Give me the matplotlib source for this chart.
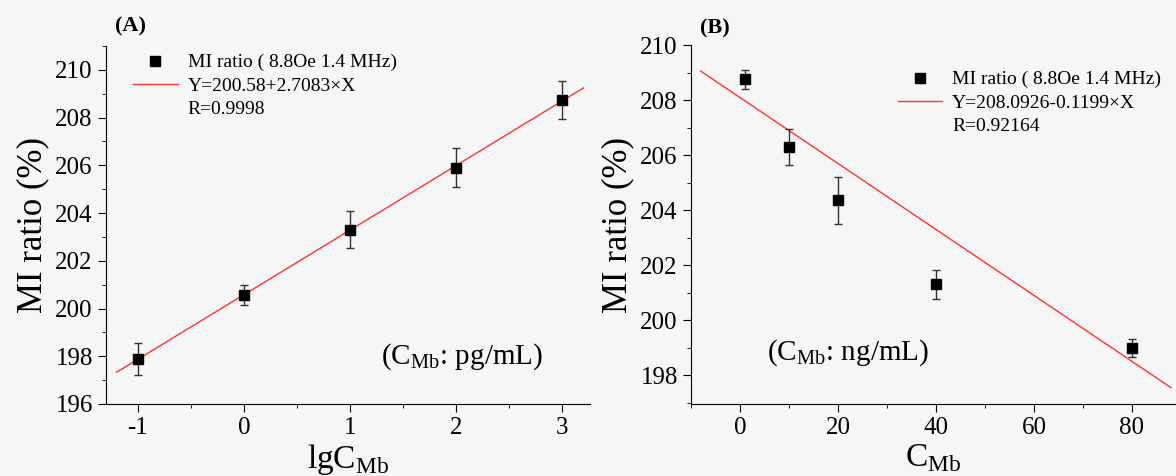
import matplotlib.pyplot as plt
from matplotlib.ticker import MultipleLocator
from matplotlib.lines import Line2D

plt.rcParams['font.family'] = ['Liberation Serif', 'DejaVu Serif']
plt.rcParams['mathtext.fontset'] = 'custom'
plt.rcParams['mathtext.rm'] = 'Liberation Serif'
plt.rcParams['axes.unicode_minus'] = False

# panel A data
xa = [-1, 0, 1, 2, 3]
ya = [197.9, 200.57, 203.3, 205.9, 208.75]
ea = [0.67, 0.42, 0.77, 0.82, 0.8]
fit_a = (200.58, 2.7083)
fit_a_x = [-1.2, 3.2]

# panel B data
xb = [1, 10, 20, 40, 80]
yb = [208.75, 206.3, 204.35, 201.3, 199.0]
eb = [0.35, 0.65, 0.85, 0.52, 0.33]
fit_b = (208.0926, -0.1199)
fit_b_x = [-8, 88]

bg = '#f6f6f6'
fig = plt.figure(figsize=(11.76, 4.76), dpi=100, facecolor=bg)
axA = fig.add_axes([0.0901, 0.1513, 0.4116, 0.752])
axB = fig.add_axes([0.5876, 0.1513, 0.4124, 0.754])


def panel(ax, x, y, e, fit, fx, eqn, r, anchor):
    ax.set_facecolor(bg)
    ax.errorbar(x, y, yerr=e, fmt='none', ecolor='#333333',
                elinewidth=1, capsize=3, capthick=1, zorder=3)
    pts, = ax.plot(x, y, 's', color='black', ms=7, zorder=4)
    ln, = ax.plot(fx, [fit[0] + fit[1] * v for v in fx], color='#ff3333', lw=1)
    blank = Line2D([], [], color='none')
    ax.legend([pts, ln, blank], ['MI ratio ( 8.8Oe 1.4 MHz)', eqn, r],
              loc='upper left', bbox_to_anchor=anchor, frameon=False,
              fontsize=14, handlelength=2.3, borderaxespad=0,
              labelspacing=0.3, handletextpad=0.5)
    for s in ['top', 'right']:
        ax.spines[s].set_visible(False)
    ax.tick_params(which='both', direction='out', labelsize=18)
    ax.tick_params(which='major', length=6)
    ax.tick_params(which='minor', length=3)


panel(axA, xa, ya, ea, fit_a, fit_a_x, 'Y=200.58+2.7083×X', 'R=0.9998', (0.04, 1.0))
axA.set_xlim(-1.3, 3.26)
axA.set_ylim(196, 211)
axA.xaxis.set_major_locator(MultipleLocator(1))
axA.xaxis.set_minor_locator(MultipleLocator(0.5))
axA.yaxis.set_major_locator(MultipleLocator(2))
axA.yaxis.set_minor_locator(MultipleLocator(1))
axA.set_xlabel(r'lgC$_{\mathrm{Mb}}$', fontsize=24, labelpad=2)
axA.set_ylabel('MI ratio (%)', fontsize=25, labelpad=4)
axA.text(0.735, 0.131, r'(C$_{\mathrm{Mb}}$: pg/mL)', transform=axA.transAxes,
         fontsize=21, ha='center', va='center')
fig.text(0.098, 0.945, '(A)', fontsize=16, fontweight='bold', ha='left', va='center')

panel(axB, xb, yb, eb, fit_b, fit_b_x, 'Y=208.0926-0.1199×X', 'R=0.92164', (0.41, 0.95))
axB.set_xlim(-10, 89)
axB.set_ylim(196.95, 210)
axB.xaxis.set_major_locator(MultipleLocator(20))
axB.xaxis.set_minor_locator(MultipleLocator(10))
axB.yaxis.set_major_locator(MultipleLocator(2))
axB.yaxis.set_minor_locator(MultipleLocator(1))
axB.set_xlabel(r'C$_{\mathrm{Mb}}$', fontsize=24, labelpad=2)
axB.set_ylabel('MI ratio (%)', fontsize=25, labelpad=4)
axB.text(0.324, 0.142, r'(C$_{\mathrm{Mb}}$: ng/mL)', transform=axB.transAxes,
         fontsize=21, ha='center', va='center')
fig.text(0.595, 0.94, '(B)', fontsize=16, fontweight='bold', ha='left', va='center')

fig.savefig('out.png', dpi=100, facecolor=bg)
